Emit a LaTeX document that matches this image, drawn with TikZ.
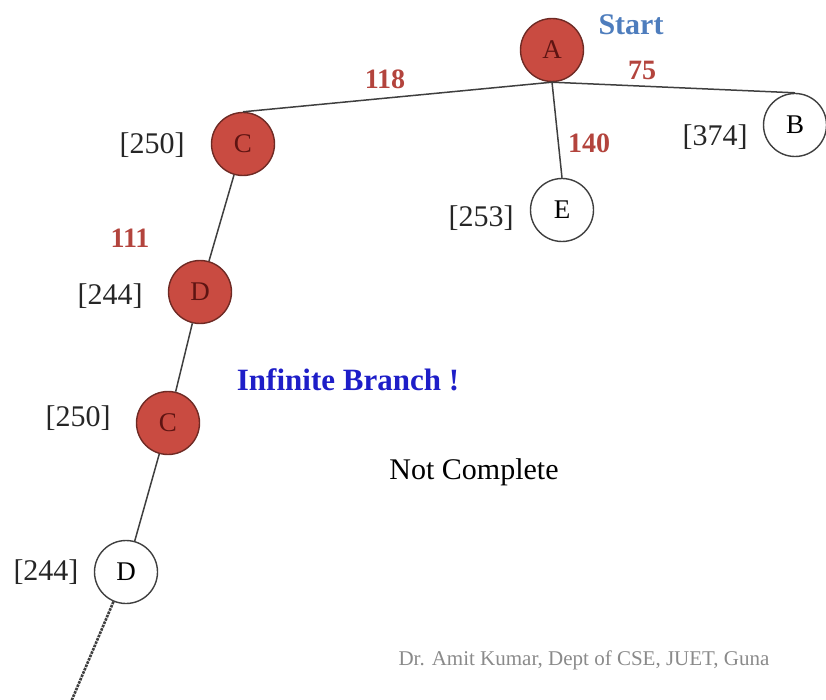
\documentclass[tikz,border=0pt]{standalone}
\usepackage{fontspec}
\setmainfont{Liberation Serif}
\definecolor{nodered}{HTML}{C94B41}
\definecolor{rimred}{HTML}{6E2A24}
\definecolor{letterred}{HTML}{5E1412}
\definecolor{costred}{HTML}{B3443D}
\definecolor{startblue}{HTML}{4E7DBD}
\definecolor{branchblue}{HTML}{1E1EC8}
\definecolor{edgegray}{HTML}{3F3F3F}
\definecolor{footgray}{HTML}{8A8A8A}
\begin{document}
\begin{tikzpicture}[x=1pt,y=-1pt,
  visited/.style={circle,draw=rimred,fill=nodered,line width=1.4pt,
    minimum size=63pt,inner sep=0pt,text=letterred,font=\fontsize{27}{30}\selectfont},
  fresh/.style={circle,draw=edgegray,fill=white,line width=1.4pt,
    minimum size=63pt,inner sep=0pt,font=\fontsize{27}{30}\selectfont},
  cost/.style={font=\fontsize{30}{36}\selectfont,text=black!85},
  weight/.style={font=\bfseries\fontsize{28}{34}\selectfont,text=costred},
  link/.style={edgegray,line width=1.5pt}]
  \useasboundingbox (0,0) rectangle (826,700);
  \node[visited] (A) at (552,50) {A};
  \node[visited] (C1) at (243,144) {C};
  \node[fresh] (E) at (562,210) {E};
  \node[fresh] (B) at (795,125) {B};
  \node[visited] (D1) at (200,292) {D};
  \node[visited] (C2) at (168,423) {C};
  \node[fresh] (D2) at (126,572) {D};
  \coordinate (tail) at (71,702);
  \draw[link] (A.south) -- (C1.north);
  \draw[link] (A.south) -- (E.north);
  \draw[link] (A.south) -- (B.north);
  \draw[link] (C1) -- (D1);
  \draw[link] (D1) -- (C2);
  \draw[link] (C2) -- (D2);
  \draw[link,line width=2.6pt,densely dotted] (D2) -- (tail);
  \node[font=\bfseries\fontsize{30}{36}\selectfont,text=startblue] (start) at (631,25) {Start};
  \node[weight] (wAC) at (385,79) {118};
  \node[weight] (wAB) at (642,70) {75};
  \node[weight] (wAE) at (589,143) {140};
  \node[weight] (wCD) at (130,238) {111};
  \node[cost] (fC1) at (152,145) {[250]};
  \node[cost] (fE) at (481,218) {[253]};
  \node[cost] (fB) at (715,137) {[374]};
  \node[cost] (fD1) at (110,296) {[244]};
  \node[cost] (fC2) at (78,418) {[250]};
  \node[cost] (fD2) at (46,572) {[244]};
  \node[font=\bfseries\fontsize{31}{36}\selectfont,text=branchblue] (inf) at (348,380) {Infinite Branch !};
  \node[font=\fontsize{30}{36}\selectfont] (nc) at (474,472) {Not Complete};
  \node[font=\fontsize{21}{25}\selectfont,text=footgray] (foot) at (584,660) {Dr. Amit Kumar, Dept of CSE, JUET, Guna};
\end{tikzpicture}
\end{document}
